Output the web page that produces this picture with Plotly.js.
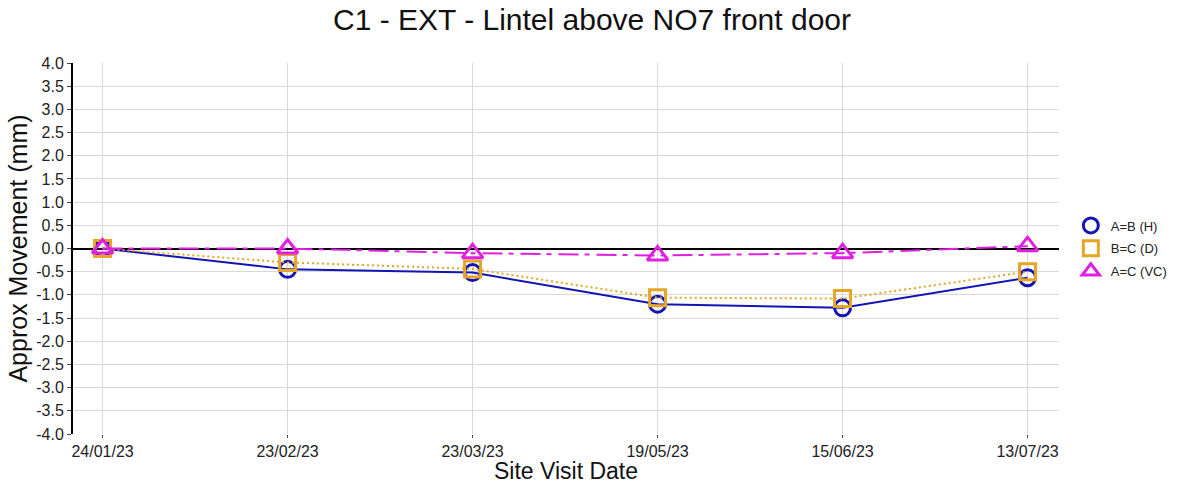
<!DOCTYPE html>
<html>
<head>
<meta charset="utf-8">
<script src="https://cdn.plot.ly/plotly-3.0.1.min.js"></script>
<style>html,body{margin:0;padding:0;background:#fff;}#chart{width:1184px;height:484px;}</style>
</head>
<body>
<div id="chart"></div>
<script>
const dates = ["24/01/23","23/02/23","23/03/23","19/05/23","15/06/23","13/07/23"];
const seriesAB = [0, -0.45, -0.52, -1.2, -1.28, -0.63];
const seriesBC = [0, -0.3, -0.44, -1.06, -1.08, -0.5];
const seriesAC = [0, 0.0, -0.1, -0.15, -0.1, 0.05];
const yTickVals = [4,3.5,3,2.5,2,1.5,1,0.5,0,-0.5,-1,-1.5,-2,-2.5,-3,-3.5,-4];
const yTickText = yTickVals.map(v => v.toFixed(1));

const font = "Liberation Sans, Arial, sans-serif";
const cAB = "#1414b4", cBC = "#e6a526", cAC = "#e020e0";
const specs = [
  {y: seriesAB, name: "A=B (H)", color: cAB, dash: "solid", symbol: "circle-open", size: 16},
  {y: seriesBC, name: "B=C (D)", color: cBC, dash: "2px,3px", symbol: "square-open", size: 16},
  {y: seriesAC, name: "A=C (VC)", color: cAC, dash: "20px,6px,5px,7px", symbol: "triangle-up-open", size: 18}
];
const traces = [];
specs.forEach(s => {
  traces.push({x: dates, y: s.y, name: s.name, mode: "lines+markers", type: "scatter", showlegend: false,
    line: {color: s.color, width: 2, dash: s.dash},
    marker: {symbol: s.symbol, size: s.size, color: s.color, line: {width: 3, color: s.color}}});
});
specs.forEach((s, i) => {
  traces.push({x: [null], y: [null], name: s.name, mode: "markers", type: "scatter", showlegend: true,
    legendgroup: "g" + i,
    marker: {symbol: s.symbol, size: 15, color: s.color, line: {width: 3, color: s.color}}});
});
const layout = {
  width: 1184, height: 484,
  margin: {l: 73, r: 125, t: 63, b: 50},
  paper_bgcolor: "#fff", plot_bgcolor: "#fff",
  font: {family: font, color: "#222"},
  title: {text: "C1 - EXT - Lintel above NO7 front door", font: {size: 30, family: font, color: "#111"},
          x: 0.5, xanchor: "center", y: 0.96, yanchor: "middle"},
  xaxis: {type: "category", range: [-0.16, 5.17], showgrid: true, gridcolor: "#d8d8d8", gridwidth: 1,
          showline: false, zeroline: false, ticks: "outside", ticklen: 3, tickcolor: "#444",
          tickfont: {size: 16, family: font, color: "#222"},
          title: {text: "Site Visit Date", font: {size: 23, family: font, color: "#111"}, standoff: 3}},
  yaxis: {range: [-4, 4], tickvals: yTickVals, ticktext: yTickText, showgrid: true, gridcolor: "#d8d8d8", gridwidth: 1,
          showline: true, linecolor: "#000", linewidth: 2, zeroline: true, zerolinecolor: "#000", zerolinewidth: 2,
          ticks: "outside", ticklen: 4, tickcolor: "#444",
          tickfont: {size: 16, family: font, color: "#222"},
          title: {text: "Approx Movement (mm)", font: {size: 25, family: font, color: "#111"}, standoff: 1}},
  legend: {x: 1.012, xanchor: "left", y: 0.5, yanchor: "middle", font: {size: 13, family: font, color: "#222"},
           itemwidth: 30, tracegroupgap: 3, bgcolor: "rgba(0,0,0,0)"},
  showlegend: true
};
Plotly.newPlot("chart", traces, layout, {displayModeBar: false, staticPlot: true});
</script>
</body>
</html>
